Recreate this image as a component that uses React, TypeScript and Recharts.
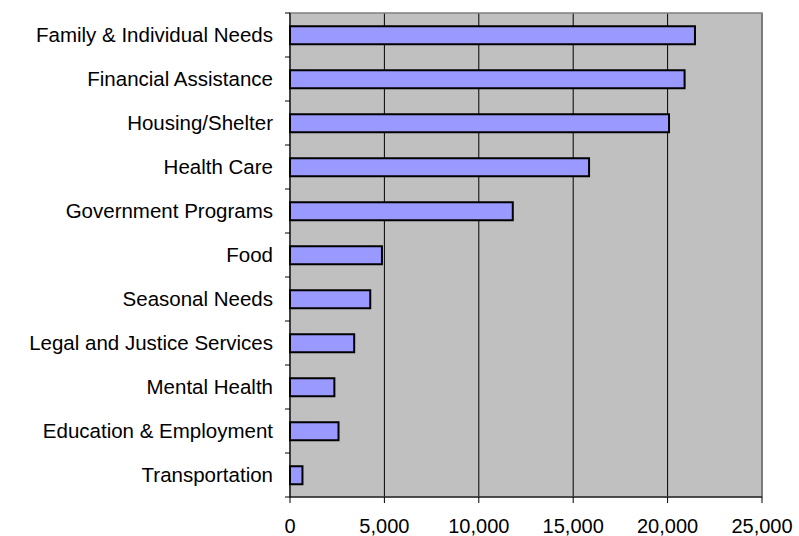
import * as React from "react";
import {
  BarChart,
  Bar,
  XAxis,
  YAxis,
  CartesianGrid,
  ReferenceArea,
} from "recharts";

// service categories, top to bottom
const categories = [
  "Family & Individual Needs",
  "Financial Assistance",
  "Housing/Shelter",
  "Health Care",
  "Government Programs",
  "Food",
  "Seasonal Needs",
  "Legal and Justice Services",
  "Mental Health",
  "Education & Employment",
  "Transportation",
];

const requests = [21450, 20900, 20075, 15840, 11800, 4870, 4250, 3400, 2350, 2570, 660];

const xTicks = [0, 5000, 10000, 15000, 20000, 25000];

const data = categories.map((name, i) => ({ name, value: requests[i] }));

const WIDTH = 799;
const HEIGHT = 536;
const MARGIN = { top: 13, right: 37, bottom: 0, left: 0 };
const Y_AXIS_WIDTH = 290;
const X_AXIS_HEIGHT = 39;
const LABEL_GAP = 17;
const BAND = (HEIGHT - MARGIN.top - X_AXIS_HEIGHT) / categories.length;
const FONT = "'Liberation Sans', Arial, sans-serif";

function CategoryTick(props: any) {
  const { x, y, payload, index } = props;
  const axisX = x + LABEL_GAP;
  return (
    <g>
      <line x1={axisX - 5} x2={axisX} y1={y - BAND / 2} y2={y - BAND / 2} stroke="#000" />
      {index === categories.length - 1 && (
        <line x1={axisX - 5} x2={axisX} y1={y + BAND / 2} y2={y + BAND / 2} stroke="#000" />
      )}
      <text
        x={x}
        y={y}
        dy="0.355em"
        textAnchor="end"
        fill="#000"
        fontSize={20.5}
        fontFamily={FONT}
      >
        {payload.value}
      </text>
    </g>
  );
}

export default function App() {
  return (
    <div style={{ position: "absolute", left: 0, top: 0 }}>
      <BarChart
        width={WIDTH}
        height={HEIGHT}
        data={data}
        layout="vertical"
        margin={MARGIN}
        barCategoryGap="30%"
      >
        <CartesianGrid
          horizontal={false}
          stroke="#000"
          fill="#C0C0C0"
          fillOpacity={1}
        />
        <ReferenceArea x1={0} x2={25000} fill="none" stroke="#808080" strokeWidth={1.5} />
        <XAxis
          type="number"
          domain={[0, 25000]}
          ticks={xTicks}
          interval={0}
          height={X_AXIS_HEIGHT}
          tickSize={6}
          tickMargin={16}
          stroke="#000"
          tick={{ fill: "#000", fontSize: 20, fontFamily: FONT }}
          tickFormatter={(v: number) => v.toLocaleString("en-US")}
        />
        <YAxis
          type="category"
          dataKey="name"
          width={Y_AXIS_WIDTH}
          interval={0}
          tickLine={false}
          tickSize={0}
          tickMargin={LABEL_GAP}
          stroke="#000"
          tick={<CategoryTick />}
        />
        <Bar
          dataKey="value"
          fill="#9999FF"
          stroke="#000"
          strokeWidth={2}
          isAnimationActive={false}
        />
      </BarChart>
    </div>
  );
}
